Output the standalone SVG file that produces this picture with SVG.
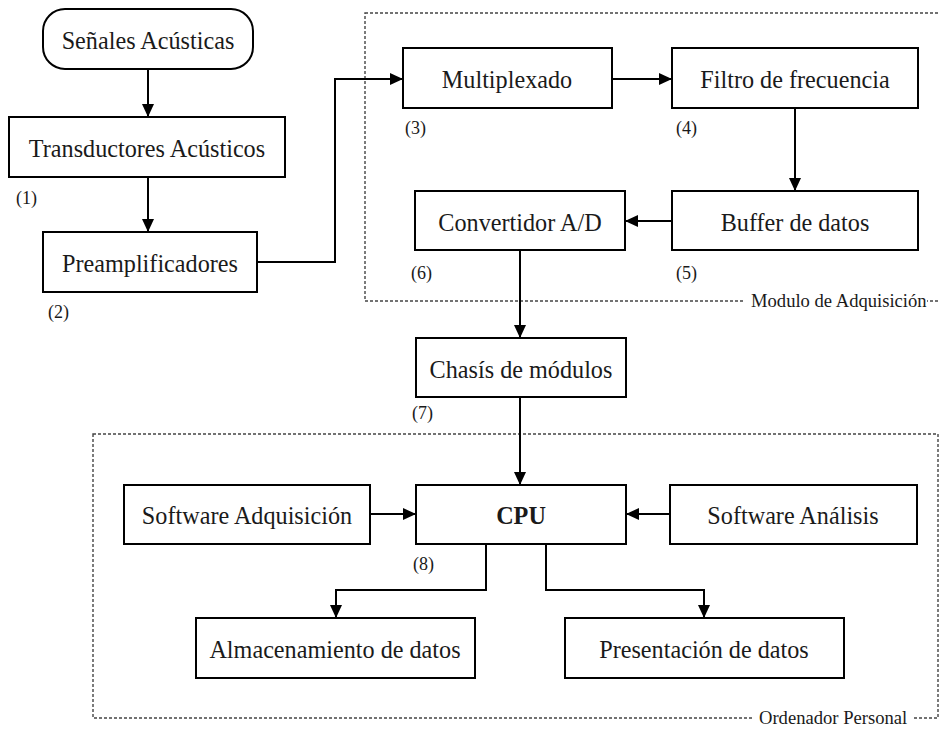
<svg xmlns="http://www.w3.org/2000/svg" width="939" height="731" viewBox="0 0 939 731">
<style>
.box{fill:#fff;stroke:#000;stroke-width:2}
.t{font-family:"Liberation Serif","Times New Roman",serif;font-size:24.2px;fill:#1a1a1a;text-anchor:middle;dominant-baseline:central}
.b{font-weight:bold}
.n{font-family:"Liberation Serif","Times New Roman",serif;font-size:18px;fill:#1a1a1a}
.grp{fill:none;stroke:#444;stroke-width:1.4;stroke-dasharray:3 2}
.c{fill:none;stroke:#000;stroke-width:2}
.gl{font-family:"Liberation Serif","Times New Roman",serif;font-size:18.6px;fill:#1a1a1a}
</style>
<defs>
<marker id="ah" viewBox="0 0 13 12" refX="13" refY="6" markerWidth="13" markerHeight="12" markerUnits="userSpaceOnUse" orient="auto">
<path d="M0,0 L13,6 L0,12 Z" fill="#000"/>
</marker>
</defs>
<rect width="939" height="731" fill="#fff"/>

<g id="grupo-modulo">
<rect class="grp" x="365" y="13" width="590" height="288"/>
<rect x="745" y="290" width="182" height="20" fill="#fff"/>
<text class="gl" x="751" y="307">Modulo de Adquisición</text>
</g>
<g id="grupo-ordenador">
<rect class="grp" x="93" y="434" width="845" height="284"/>
<rect x="752" y="708" width="161" height="22" fill="#fff"/>
<text class="gl" x="759" y="724">Ordenador Personal</text>
</g>

<g id="connectors">
<path class="c" d="M148,69 V117" marker-end="url(#ah)"/>
<path class="c" d="M148,177 V232" marker-end="url(#ah)"/>
<path class="c" d="M257,262 H335 V79 H403" marker-end="url(#ah)"/>
<path class="c" d="M612,79 H672" marker-end="url(#ah)"/>
<path class="c" d="M795,108 V191" marker-end="url(#ah)"/>
<path class="c" d="M672,221 H625" marker-end="url(#ah)"/>
<path class="c" d="M520,250 V338" marker-end="url(#ah)"/>
<path class="c" d="M520,397 V485" marker-end="url(#ah)"/>
<path class="c" d="M370,514 H416" marker-end="url(#ah)"/>
<path class="c" d="M670,514 H626" marker-end="url(#ah)"/>
<path class="c" d="M486,544 V590 H336 V618" marker-end="url(#ah)"/>
<path class="c" d="M546,544 V590 H704 V618" marker-end="url(#ah)"/>
</g>

<g id="senales">
<rect class="box" x="43" y="9" width="210" height="60" rx="22" ry="22"/>
<text class="t" x="148" y="40">Señales Acústicas</text>
</g>
<g id="transductores">
<rect class="box" x="9" y="117" width="276" height="60"/>
<text class="t" x="147" y="148">Transductores Acústicos</text>
<text class="n" x="16" y="204">(1)</text>
</g>
<g id="preamplificadores">
<rect class="box" x="43" y="232" width="214" height="60"/>
<text class="t" x="150" y="263">Preamplificadores</text>
<text class="n" x="48" y="318">(2)</text>
</g>
<g id="multiplexado">
<rect class="box" x="403" y="48" width="209" height="60"/>
<text class="t" x="507" y="79">Multiplexado</text>
<text class="n" x="405" y="134">(3)</text>
</g>
<g id="filtro">
<rect class="box" x="672" y="48" width="246" height="60"/>
<text class="t" x="795" y="79">Filtro de frecuencia</text>
<text class="n" x="676" y="134">(4)</text>
</g>
<g id="buffer">
<rect class="box" x="672" y="191" width="246" height="59"/>
<text class="t" x="795" y="222">Buffer de datos</text>
<text class="n" x="676" y="279">(5)</text>
</g>
<g id="convertidor">
<rect class="box" x="415" y="191" width="210" height="59"/>
<text class="t" x="520" y="222">Convertidor A/D</text>
<text class="n" x="411" y="279">(6)</text>
</g>
<g id="chasis">
<rect class="box" x="416" y="338" width="210" height="59"/>
<text class="t" x="521" y="369">Chasís de módulos</text>
<text class="n" x="412" y="419">(7)</text>
</g>
<g id="cpu">
<rect class="box" x="416" y="485" width="210" height="59"/>
<text class="t b" x="521" y="515">CPU</text>
<text class="n" x="413" y="570">(8)</text>
</g>
<g id="sw-adquisicion">
<rect class="box" x="124" y="485" width="246" height="59"/>
<text class="t" x="247" y="515">Software Adquisición</text>
</g>
<g id="sw-analisis">
<rect class="box" x="670" y="485" width="247" height="59"/>
<text class="t" x="793" y="515">Software Análisis</text>
</g>
<g id="almacenamiento">
<rect class="box" x="196" y="618" width="279" height="60"/>
<text class="t" x="335" y="649">Almacenamiento de datos</text>
</g>
<g id="presentacion">
<rect class="box" x="565" y="618" width="279" height="60"/>
<text class="t" x="704" y="649">Presentación de datos</text>
</g>
</svg>
